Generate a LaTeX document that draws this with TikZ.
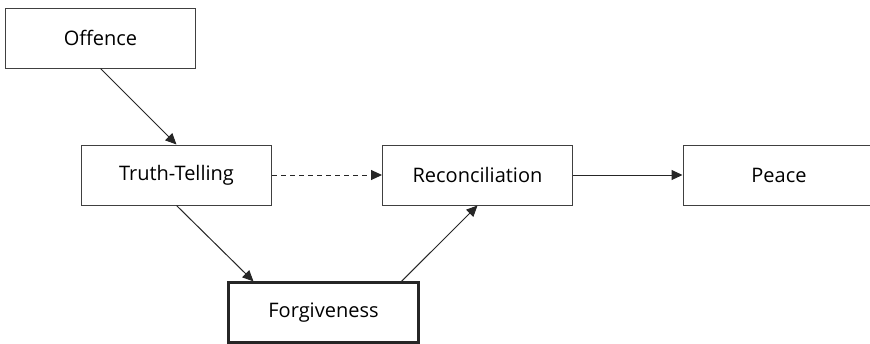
\documentclass[tikz,border=0pt]{standalone}
\usepackage{fontspec}
\setmainfont{Open Sans}
\usetikzlibrary{arrows.meta}

\begin{document}
\begin{tikzpicture}[x=0.5pt, y=-0.5pt,
    stage/.style={draw=black!75, line width=0.5pt, minimum width=95pt, minimum height=30pt,
      inner sep=0pt, font=\fontsize{10}{12}\selectfont},
    keystage/.style={stage, draw=black!85, line width=1.1pt},
    flow/.style={-{Triangle[length=5.5pt, width=5pt]}, line width=0.5pt, black!85}]
    \useasboundingbox (0, 0) rectangle (870, 343);
    % stages
    \node [stage]    (offence) at (100.5, 38)  {Offence};
    \node [stage]    (truth)   at (176.5, 175) {Truth-Telling};
    \node [stage]    (recon)   at (477.5, 175) {Reconciliation};
    \node [stage, minimum width=96pt] (peace) at (779, 175) {Peace};
    \node [keystage] (forgive) at (323.5, 312.5) {Forgiveness};
    % entry and exit points on Forgiveness
    \coordinate (forgivein)  at ([xshift=-35pt]forgive.north);
    \coordinate (forgiveout) at ([xshift=39pt]forgive.north);
    % links
    \draw [flow]         (offence.south) -- (truth.north);
    \draw [flow, dash pattern=on 2.5pt off 2pt] (truth.east) -- (recon.west);
    \draw [flow]         (recon.east) -- (peace.west);
    \draw [flow]         (truth.south) -- (forgivein);
    \draw [flow]         (forgiveout) -- (recon.south);
  \end{tikzpicture}
\end{document}
